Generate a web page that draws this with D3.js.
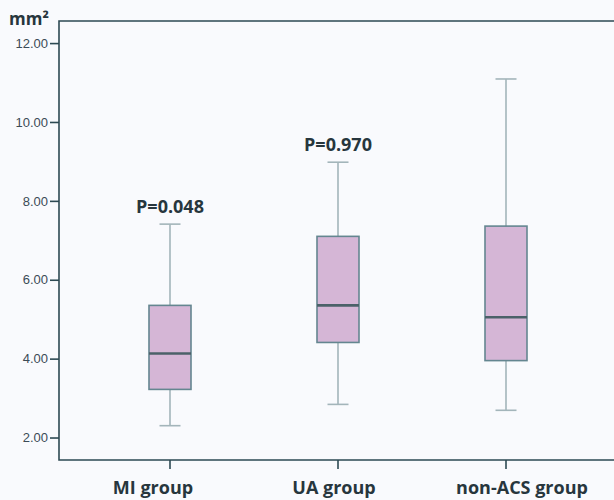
<!DOCTYPE html>
<html>
<head>
<meta charset="utf-8">
<script src="https://cdn.jsdelivr.net/npm/d3@7"></script>
<style>
  html, body { margin: 0; padding: 0; background: #f9fafd; overflow: hidden; }
  svg { display: block; }
</style>
</head>
<body>
<svg id="chart"></svg>
<script>
const groups = ['MI group', 'UA group', 'non-ACS group'];
const whiskerLow = [2.30, 2.84, 2.69];
const q1 = [3.22, 4.41, 3.95];
const median = [4.13, 5.35, 5.05];
const q3 = [5.35, 7.10, 7.36];
const whiskerHigh = [7.41, 8.98, 11.09];
const pLabels = ['P=0.048', 'P=0.970', ''];
const yTicks = [2, 4, 6, 8, 10, 12];

const width = 614, height = 500;
const margin = {top: 21, bottom: 40, left: 59};

const svg = d3.select('#chart')
  .attr('width', width)
  .attr('height', height);

const y = d3.scaleLinear()
  .domain([1.43, 12.56])
  .range([height - margin.bottom, margin.top]);

const x = d3.scaleBand()
  .domain(groups)
  .range([86, 590]);

const boxes = groups.map((g, i) => ({
  key: g, lo: whiskerLow[i], q1: q1[i], med: median[i], q3: q3[i], hi: whiskerHigh[i], p: pLabels[i]
}));

const axisColor = '#2d4a53';

// frame: top, left and bottom edges only
svg.append('path')
  .attr('d', `M${width + 5},${margin.top}H${margin.left}V${height - margin.bottom}H${width + 5}`)
  .attr('fill', 'none')
  .attr('stroke', axisColor).attr('stroke-width', 1.6);

const yAxis = svg.append('g')
  .attr('transform', `translate(${margin.left},0)`)
  .call(d3.axisLeft(y).tickValues(yTicks).tickFormat(d3.format('.2f')).tickSize(9).tickPadding(2).tickSizeOuter(0));

const xAxis = svg.append('g')
  .attr('transform', `translate(0,${height - margin.bottom})`)
  .call(d3.axisBottom(x).tickSize(9).tickSizeOuter(0));

svg.selectAll('.domain').remove();
svg.selectAll('.tick line').attr('stroke', axisColor).attr('stroke-width', 1.6);

yAxis.selectAll('text')
  .attr('fill', '#3b4b56')
  .style('font', '13px "Liberation Sans", Arial, sans-serif');

// category labels sit a little off their ticks in the original
const labelShift = [-17, -4, 16];
xAxis.selectAll('text')
  .attr('fill', '#27363d')
  .attr('y', 34)
  .attr('dy', 0)
  .attr('dx', (d, i) => labelShift[i])
  .style('font', 'bold 18px "Open Sans", sans-serif');

// unit label
svg.append('text')
  .attr('x', 9).attr('y', 25)
  .attr('fill', '#27363d')
  .style('font', 'bold 17px "Open Sans", sans-serif')
  .text('mm²');

const boxW = 42, capW = 21;
const whiskerColor = '#a3b5ba';
const g = svg.append('g');

const b = g.selectAll('g.box')
  .data(boxes)
  .enter().append('g')
  .attr('class', 'box')
  .attr('transform', d => `translate(${x(d.key) + x.bandwidth() / 2},0)`);

// whiskers
b.append('line')
  .attr('x1', 0).attr('x2', 0)
  .attr('y1', d => y(d.hi)).attr('y2', d => y(d.lo))
  .attr('stroke', whiskerColor).attr('stroke-width', 1.6);
b.append('line')
  .attr('x1', -capW / 2).attr('x2', capW / 2)
  .attr('y1', d => y(d.hi)).attr('y2', d => y(d.hi))
  .attr('stroke', whiskerColor).attr('stroke-width', 1.6);
b.append('line')
  .attr('x1', -capW / 2).attr('x2', capW / 2)
  .attr('y1', d => y(d.lo)).attr('y2', d => y(d.lo))
  .attr('stroke', whiskerColor).attr('stroke-width', 1.6);

// box
b.append('rect')
  .attr('x', -boxW / 2)
  .attr('width', boxW)
  .attr('y', d => y(d.q3))
  .attr('height', d => y(d.q1) - y(d.q3))
  .attr('fill', '#d5b6d6')
  .attr('stroke', '#648690')
  .attr('stroke-width', 1.6);

// median
b.append('line')
  .attr('x1', -boxW / 2).attr('x2', boxW / 2)
  .attr('y1', d => y(d.med)).attr('y2', d => y(d.med))
  .attr('stroke', '#4b6169').attr('stroke-width', 2.6);

// p values
b.append('text')
  .attr('text-anchor', 'middle')
  .attr('y', d => y(d.hi) - 11)
  .attr('fill', '#27363d')
  .style('font', 'bold 18px "Open Sans", sans-serif')
  .text(d => d.p);
</script>
</body>
</html>
